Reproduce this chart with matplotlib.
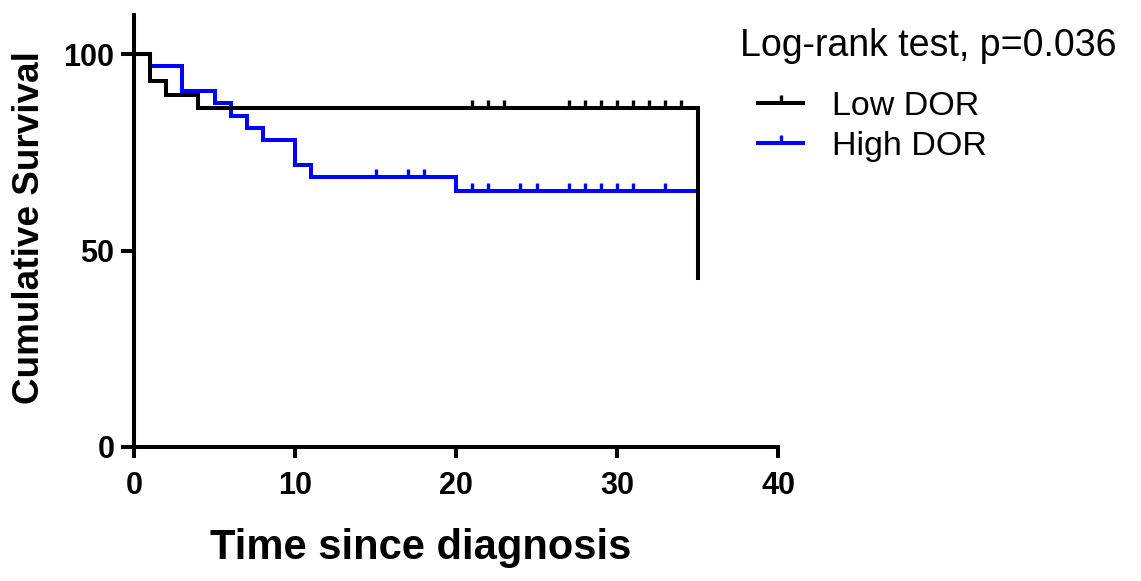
import matplotlib
matplotlib.use("Agg")
import matplotlib.pyplot as plt
from matplotlib.path import Path
from matplotlib.lines import Line2D

# ---- data ----
low_times = [0, 1, 2, 4, 35]
low_surv = [100, 93.1, 89.7, 86.2, 43.1]
low_censor_times = [21, 22, 23, 27, 28, 29, 30, 31, 32, 33, 34]
low_censor_surv = [86.2] * 11

high_times = [0, 1, 3, 5, 6, 7, 8, 10, 11, 20, 35]
high_surv = [100, 96.9, 90.6, 87.5, 84.4, 81.3, 78.1, 71.9, 68.8, 65.1, 65.1]
high_censor_times = [15, 17, 18, 21, 22, 24, 25, 27, 28, 29, 30, 31, 33]
high_censor_surv = [68.8, 68.8, 68.8] + [65.1] * 10

x_ticks = [0, 10, 20, 30, 40]
y_ticks = [0, 50, 100]
labels = ["Low DOR", "High DOR"]
colors = ["#000000", "#0000FF"]
legend_title = "Log-rank test, p=0.036"

font = "Liberation Sans"

W, H = 1141, 581
fig = plt.figure(figsize=(W / 100, H / 100), dpi=100)
ax = fig.add_axes([134 / W, 1 - 447 / H, 644 / W, 432 / H])

lw = 2.9
tick_marker = Path([(0, 0), (0, 1)])

ax.step(high_times, high_surv, where="post", color=colors[1], lw=lw, clip_on=False,
        solid_joinstyle="miter", label=labels[1])
ax.plot(high_censor_times, high_censor_surv, ls="none", marker=tick_marker, ms=11,
        mew=2.4, color=colors[1], clip_on=False)
ax.step(low_times, low_surv, where="post", color=colors[0], lw=lw, clip_on=False,
        solid_joinstyle="miter", label=labels[0])
ax.plot(low_censor_times, low_censor_surv, ls="none", marker=tick_marker, ms=11,
        mew=2.4, color=colors[0], clip_on=False)

ax.set_xlim(0, 40)
ax.set_ylim(0, 110)
ax.set_xticks(x_ticks)
ax.set_yticks(y_ticks)
for s in ["top", "right"]:
    ax.spines[s].set_visible(False)
for s in ["left", "bottom"]:
    ax.spines[s].set_linewidth(lw)
ax.tick_params(axis="x", direction="out", length=8, width=lw, pad=9)
ax.tick_params(axis="y", direction="out", length=9.5, width=lw, pad=4.5)
for lab in ax.get_xticklabels() + ax.get_yticklabels():
    lab.set_fontfamily(font)
    lab.set_fontweight("bold")
    lab.set_fontsize(22)

ax.set_xlabel("Time since diagnosis", fontfamily=font, fontweight="bold", fontsize=30,
              va="center")
ax.xaxis.set_label_coords((421 - 134) / 644, (447 - 548) / 432)
ax.set_ylabel("Cumulative Survival", fontfamily=font, fontweight="bold", fontsize=26.6,
              va="center")
ax.yaxis.set_label_coords((30 - 134) / 644, (447 - 228) / 432)

# legend (drawn in figure pixel coordinates)
def fx(px):
    return px / W

def fy(py):
    return 1 - py / H

fig.text(fx(740), fy(42), legend_title, fontfamily=font, fontsize=27, ha="left",
         va="center_baseline")
for i, (lab, c) in enumerate(zip(labels, colors)):
    yy = 103 + 39.5 * i
    fig.add_artist(Line2D([fx(758), fx(803)], [fy(yy), fy(yy)], color=c, lw=lw,
                          transform=fig.transFigure))
    fig.add_artist(Line2D([fx(780.5)], [fy(yy)], ls="none", marker=tick_marker, ms=11,
                          mew=2.4, color=c, transform=fig.transFigure))
    fig.text(fx(832), fy(yy), lab, fontfamily=font, fontsize=24.5, ha="left",
             va="center_baseline")

fig.savefig("out.png", dpi=100)
